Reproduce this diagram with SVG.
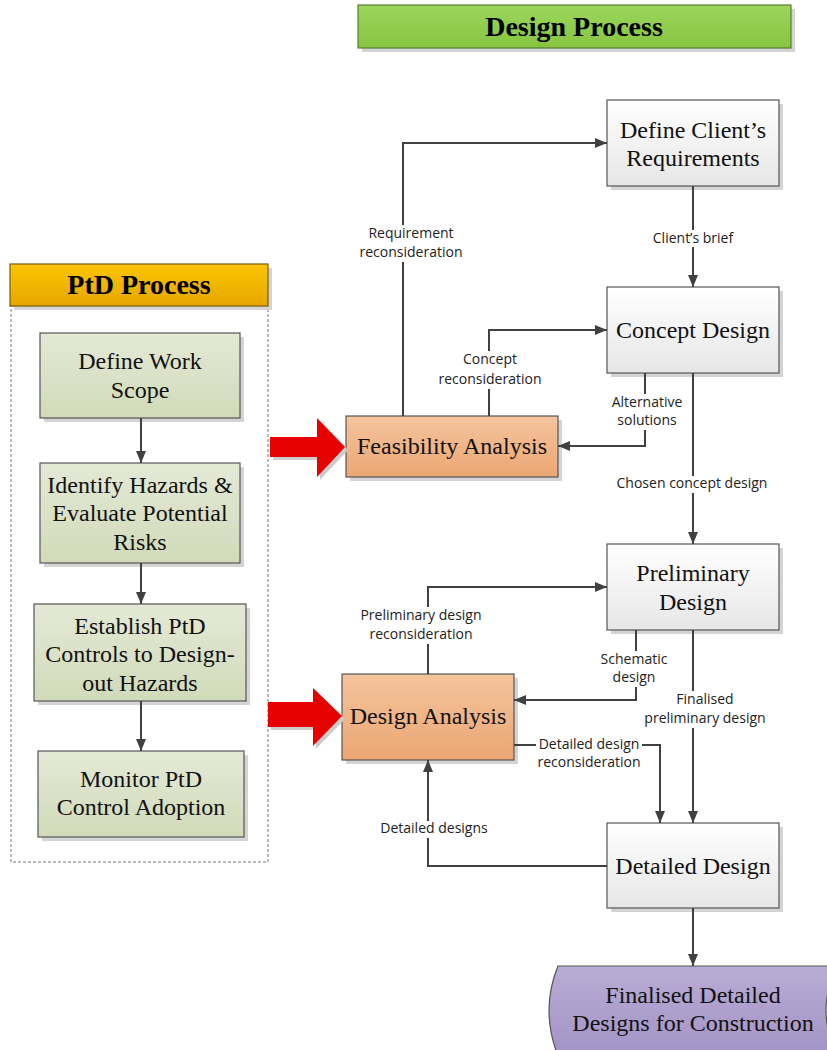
<svg xmlns="http://www.w3.org/2000/svg" width="827" height="1050" viewBox="0 0 827 1050">
<defs>
<linearGradient id="gTitle" x1="0" y1="0" x2="0" y2="1"><stop offset="0" stop-color="#9bd65c"/><stop offset="1" stop-color="#86c440"/></linearGradient>
<linearGradient id="gPtdTitle" x1="0" y1="0" x2="0" y2="1"><stop offset="0" stop-color="#fcc400"/><stop offset="1" stop-color="#e5a600"/></linearGradient>
<linearGradient id="gPtd" x1="0" y1="0" x2="0" y2="1"><stop offset="0" stop-color="#e4e9d6"/><stop offset="1" stop-color="#d1dab9"/></linearGradient>
<linearGradient id="gDes" x1="0" y1="0" x2="0" y2="1"><stop offset="0" stop-color="#ffffff"/><stop offset="1" stop-color="#e6e6e6"/></linearGradient>
<linearGradient id="gAna" x1="0" y1="0" x2="0" y2="1"><stop offset="0" stop-color="#f4c49e"/><stop offset="1" stop-color="#eba673"/></linearGradient>
<linearGradient id="gFin" x1="0" y1="0" x2="0" y2="1"><stop offset="0" stop-color="#b9acd4"/><stop offset="1" stop-color="#a393c6"/></linearGradient>
<marker id="ah" viewBox="0 0 12 10" refX="12" refY="5" markerWidth="12" markerHeight="10" markerUnits="userSpaceOnUse" orient="auto"><path d="M0,0 L12,5 L0,10 Z" fill="#404040"/></marker>
</defs>
<style>
.shadow{fill:#d4d4d4}
.node{stroke:#555;stroke-width:1.2}
.nt{font-family:"Liberation Serif","Times New Roman",serif;font-size:24px;fill:#111;text-anchor:middle}
.tt{font-family:"Liberation Serif","Times New Roman",serif;font-size:28px;font-weight:bold;fill:#000;text-anchor:middle}
.lbl{font-family:"Open Sans","Liberation Sans",sans-serif;font-size:14px;fill:#222;text-anchor:middle}
.lb{fill:#fff}
.conn{fill:none;stroke:#404040;stroke-width:2}
</style>
<rect width="827" height="1050" fill="#fff"/>

<g id="title-design">
<rect class="shadow" x="362" y="9" width="433" height="43"/>
<rect x="358" y="5" width="433" height="43" fill="url(#gTitle)" stroke="#5a7f33" stroke-width="1.2"/>
<text class="tt" x="574" y="36">Design Process</text>
</g>

<g id="ptd-container">
<rect x="11" y="306" width="257" height="556" fill="none" stroke="#777" stroke-width="1" stroke-dasharray="3,2"/>
<rect class="shadow" x="14" y="268" width="258" height="42"/>
<rect x="10" y="264" width="258" height="42" fill="url(#gPtdTitle)" stroke="#7a5c00" stroke-width="1.2"/>
<text class="tt" x="139" y="294">PtD Process</text>
</g>

<g id="n-scope">
<rect class="shadow" x="44" y="337" width="200" height="85"/>
<rect class="node" x="40" y="333" width="200" height="85" fill="url(#gPtd)"/>
<text class="nt" x="140" y="369">Define Work</text>
<text class="nt" x="140" y="398">Scope</text>
</g>
<g id="n-hazards">
<rect class="shadow" x="44" y="467" width="200" height="100"/>
<rect class="node" x="40" y="463" width="200" height="100" fill="url(#gPtd)"/>
<text class="nt" x="140" y="493">Identify Hazards &amp;</text>
<text class="nt" x="140" y="521">Evaluate Potential</text>
<text class="nt" x="140" y="550">Risks</text>
</g>
<g id="n-controls">
<rect class="shadow" x="38" y="608" width="212" height="97"/>
<rect class="node" x="34" y="604" width="212" height="97" fill="url(#gPtd)"/>
<text class="nt" x="140" y="634">Establish PtD</text>
<text class="nt" x="140" y="662">Controls to Design-</text>
<text class="nt" x="140" y="691">out Hazards</text>
</g>
<g id="n-monitor">
<rect class="shadow" x="42" y="755" width="206" height="86"/>
<rect class="node" x="38" y="751" width="206" height="86" fill="url(#gPtd)"/>
<text class="nt" x="141" y="787">Monitor PtD</text>
<text class="nt" x="141" y="815">Control Adoption</text>
</g>

<g id="n-client">
<rect class="shadow" x="611" y="104" width="172" height="86"/>
<rect class="node" x="607" y="100" width="172" height="86" fill="url(#gDes)"/>
<text class="nt" x="693" y="138">Define Client’s</text>
<text class="nt" x="693" y="166">Requirements</text>
</g>
<g id="n-concept">
<rect class="shadow" x="611" y="291" width="172" height="86"/>
<rect class="node" x="607" y="287" width="172" height="86" fill="url(#gDes)"/>
<text class="nt" x="693" y="338">Concept Design</text>
</g>
<g id="n-prelim">
<rect class="shadow" x="611" y="548" width="172" height="86"/>
<rect class="node" x="607" y="544" width="172" height="86" fill="url(#gDes)"/>
<text class="nt" x="693" y="581">Preliminary</text>
<text class="nt" x="693" y="610">Design</text>
</g>
<g id="n-detailed">
<rect class="shadow" x="611" y="827" width="172" height="85"/>
<rect class="node" x="607" y="823" width="172" height="85" fill="url(#gDes)"/>
<text class="nt" x="693" y="874">Detailed Design</text>
</g>
<g id="n-feasibility">
<rect class="shadow" x="350" y="420" width="212" height="61"/>
<rect class="node" x="346" y="416" width="212" height="61" fill="url(#gAna)"/>
<text class="nt" x="452" y="454">Feasibility Analysis</text>
</g>
<g id="n-design-analysis">
<rect class="shadow" x="346" y="678" width="172" height="86"/>
<rect class="node" x="342" y="674" width="172" height="86" fill="url(#gAna)"/>
<text class="nt" x="428" y="724">Design Analysis</text>
</g>
<g id="n-final">
<path d="M558,966 H838 Q814,1010 838,1056 H558 Q540,1010 558,966 Z" fill="url(#gFin)" stroke="#555" stroke-width="1.2"/>
<text class="nt" x="693" y="1003">Finalised Detailed</text>
<text class="nt" x="693" y="1031">Designs for Construction</text>
</g>

<g id="red-arrows">
<polygon points="273,440 320,440 320,421 348,450 320,480 320,460 273,460" fill="#ccc"/>
<polygon points="270,437 317,437 317,418 345,447 317,477 317,457 270,457" fill="#e60000"/>
<polygon points="271,705 316,705 316,691 345,719 316,749 316,730 271,730" fill="#ccc"/>
<polygon points="268,702 313,702 313,688 342,716 313,746 313,727 268,727" fill="#e60000"/>
</g>

<g id="connectors">
<path class="conn" d="M141,418 V463" marker-end="url(#ah)"/>
<path class="conn" d="M141,563 V604" marker-end="url(#ah)"/>
<path class="conn" d="M141,701 V751" marker-end="url(#ah)"/>
<path class="conn" d="M403,416 V143 H607" marker-end="url(#ah)"/>
<path class="conn" d="M693,186 V287" marker-end="url(#ah)"/>
<path class="conn" d="M489,416 V330 H607" marker-end="url(#ah)"/>
<path class="conn" d="M645,373 V446 H558" marker-end="url(#ah)"/>
<path class="conn" d="M693,373 V544" marker-end="url(#ah)"/>
<path class="conn" d="M428,674 V587 H607" marker-end="url(#ah)"/>
<path class="conn" d="M636,630 V700 H514" marker-end="url(#ah)"/>
<path class="conn" d="M693,630 V823" marker-end="url(#ah)"/>
<path class="conn" d="M514,745 H660 V823" marker-end="url(#ah)"/>
<path class="conn" d="M607,866 H428 V760" marker-end="url(#ah)"/>
<path class="conn" d="M693,908 V966" marker-end="url(#ah)"/>
</g>

<g id="labels">
<rect class="lb" x="355" y="225" width="112" height="37"/>
<text class="lbl" x="411" y="238">Requirement</text>
<text class="lbl" x="411" y="257">reconsideration</text>
<rect class="lb" x="645" y="230" width="96" height="17"/>
<text class="lbl" x="693" y="243">Client’s brief</text>
<rect class="lb" x="434" y="351" width="112" height="38"/>
<text class="lbl" x="490" y="364">Concept</text>
<text class="lbl" x="490" y="384">reconsideration</text>
<rect class="lb" x="606" y="394" width="82" height="36"/>
<text class="lbl" x="647" y="407">Alternative</text>
<text class="lbl" x="647" y="425">solutions</text>
<rect class="lb" x="610" y="476" width="166" height="17"/>
<text class="lbl" x="692" y="488">Chosen concept design</text>
<rect class="lb" x="356" y="607" width="130" height="37"/>
<text class="lbl" x="421" y="620">Preliminary design</text>
<text class="lbl" x="421" y="639">reconsideration</text>
<rect class="lb" x="596" y="651" width="76" height="36"/>
<text class="lbl" x="634" y="664">Schematic</text>
<text class="lbl" x="634" y="682">design</text>
<rect class="lb" x="641" y="691" width="130" height="37"/>
<text class="lbl" x="705" y="704">Finalised</text>
<text class="lbl" x="705" y="723">preliminary design</text>
<rect class="lb" x="536" y="737" width="106" height="34"/>
<text class="lbl" x="589" y="749">Detailed design</text>
<text class="lbl" x="589" y="767">reconsideration</text>
<rect class="lb" x="374" y="821" width="120" height="17"/>
<text class="lbl" x="434" y="833">Detailed designs</text>
</g>
</svg>
